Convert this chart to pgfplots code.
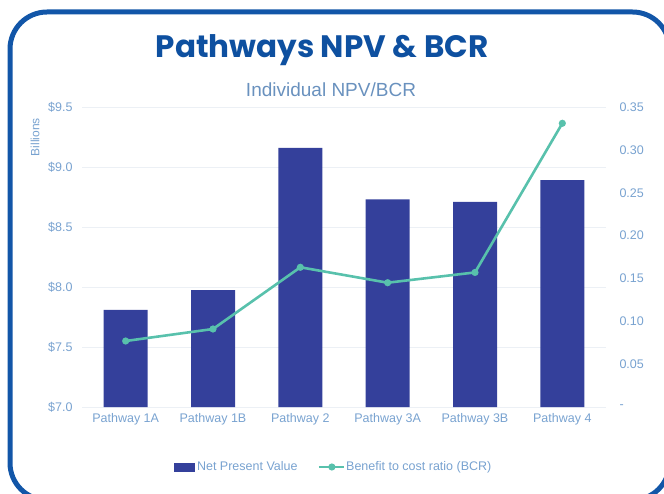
\documentclass[border=0pt]{standalone}
\usepackage{fontspec}
\setmainfont{Liberation Sans}
\newfontfamily\titlefont{Poppins}
\usepackage{pgfplots}
\pgfplotsset{compat=1.18}
\definecolor{framecol}{RGB}{18,86,168}
\definecolor{titlecol}{RGB}{14,80,160}
\definecolor{subcol}{RGB}{105,145,190}
\definecolor{tickcol}{RGB}{120,162,208}
\definecolor{barcol}{RGB}{52,64,155}
\definecolor{linecol}{RGB}{88,193,172}
\definecolor{gridcol}{RGB}{236,240,245}
\begin{document}
\begin{tikzpicture}[x=1pt,y=1pt]
\useasboundingbox (0,0) rectangle (664,493);
\begin{scope}
\clip (0,0) rectangle (664,493);
\draw[framecol, line width=5pt, rounded corners=37pt] (10,-7) rectangle (669.5,481);
\end{scope}
\node[font=\titlefont\bfseries\fontsize{31}{36}\selectfont, text=titlecol] at (322,443) {Pathways NPV \& BCR};
\node[font=\fontsize{19}{22}\selectfont, text=subcol] at (331,403) {Individual NPV/BCR};
\node[font=\fontsize{12}{14}\selectfont, text=tickcol, rotate=90] at (35,356) {Billions};
\begin{axis}[
  at={(82pt,86pt)}, anchor=south west, scale only axis,
  width=524pt, height=300pt,
  xmin=-0.5, xmax=5.5, ymin=7, ymax=9.5,
  ytick={7,7.5,8,8.5,9,9.5},
  yticklabels={\$7.0,\$7.5,\$8.0,\$8.5,\$9.0,\$9.5},
  xtick={0,1,2,3,4,5},
  xticklabels={Pathway 1A,Pathway 1B,Pathway 2,Pathway 3A,Pathway 3B,Pathway 4},
  axis line style={draw=none},
  major tick length=0pt,
  ymajorgrids, grid style={gridcol, line width=0.8pt},
  ticklabel style={font=\fontsize{12.5}{14}\selectfont, text=tickcol},
  yticklabel style={xshift=-6pt},
  xticklabel style={yshift=-3pt},
]
\addplot[ybar, bar width=44pt, fill=barcol, draw=none] coordinates {
  (0,7.81) (1,7.975) (2,9.16) (3,8.73) (4,8.71) (5,8.89)
};
\end{axis}
\begin{axis}[
  at={(82pt,86pt)}, anchor=south west, scale only axis,
  width=524pt, height=300pt,
  xmin=-0.5, xmax=5.5, ymin=0, ymax=0.35,
  axis y line*=right, axis x line=none,
  ytick={0,0.05,0.1,0.15,0.2,0.25,0.3,0.35},
  yticklabels={-,0.05,0.10,0.15,0.20,0.25,0.30,0.35},
  axis line style={draw=none},
  major tick length=0pt,
  ticklabel style={font=\fontsize{12.5}{14}\selectfont, text=tickcol},
  yticklabel style={anchor=west, xshift=10pt},
  legend columns=2,
  legend style={at={(0.48,-0.2)}, anchor=center, draw=none, fill=none,
    font=\fontsize{12.5}{14}\selectfont, text=tickcol,
    /tikz/every even column/.append style={column sep=18pt},
    inner sep=0pt},
]
\addlegendimage{legend image code/.code={\fill[barcol] (-5pt,-4pt) rectangle (15pt,4pt);}}
\addlegendentry{\hspace{1pt}Net Present Value}
\addplot[linecol, line width=2.6pt, mark=*, mark size=2.2pt, mark options={fill=linecol, draw=linecol},
  legend image code/.code={\draw[linecol, line width=2.6pt] (-6pt,0pt) -- (19pt,0pt); \fill[linecol] (7pt,0pt) circle (2.2pt);}]
  coordinates {
  (0,0.077) (1,0.091) (2,0.163) (3,0.145) (4,0.157) (5,0.331)
};
\addlegendentry{\hspace{-1pt}Benefit to cost ratio (BCR)}
\end{axis}
\end{tikzpicture}
\end{document}
